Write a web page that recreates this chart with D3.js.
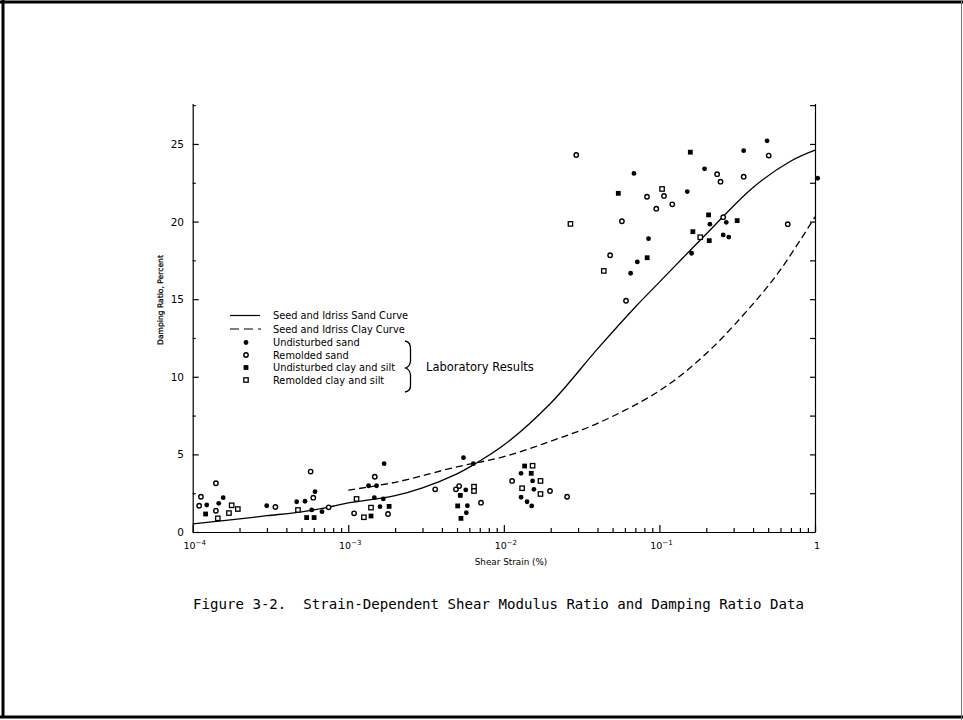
<!DOCTYPE html>
<html>
<head>
<meta charset="utf-8">
<script src="https://cdn.jsdelivr.net/npm/d3@7"></script>
<style>
  body { margin: 0; background: #fff; }
  svg { display: block; }
</style>
</head>
<body>
<div class="chart"></div>
<script>
// chart data (strain in %, damping ratio in %)
var sandCurveStrain = [1e-4, 2e-4, 3e-4, 5e-4, 7.5e-4, 1e-3, 2e-3, 3e-3, 5e-3, 6.3e-3, 1e-2, 2e-2, 4e-2, 7e-2, 1e-1, 2e-1, 4e-1, 7e-1, 1];
var sandCurveDamping = [0.52, 0.85, 1.05, 1.3, 1.6, 1.87, 2.35, 2.85, 3.75, 4.3, 5.6, 8.3, 11.8, 14.5, 16.1, 19.2, 22.2, 23.9, 24.6];

var clayCurveStrain = [1e-3, 2e-3, 5e-3, 1e-2, 2e-2, 4e-2, 1e-1, 2e-1, 4e-1, 6e-1, 1];
var clayCurveDamping = [2.7, 3.2, 4.2, 4.85, 5.85, 7.0, 9.1, 11.5, 14.7, 16.9, 20.3];

var undisturbedSand = [
  [1.23e-4, 1.74], [1.47e-4, 1.85], [1.57e-4, 2.21], [2.99e-4, 1.69], [4.66e-4, 1.95],
  [5.27e-4, 1.98], [6.11e-4, 2.6], [5.82e-4, 1.42], [6.78e-4, 1.31], [1.70e-3, 4.4],
  [1.35e-3, 2.98], [1.52e-3, 2.98], [1.47e-3, 2.21], [1.68e-3, 2.13], [1.60e-3, 1.63],
  [5.50e-3, 4.79], [6.37e-3, 4.4], [5.69e-3, 2.71], [5.83e-3, 1.69], [5.74e-3, 1.24],
  [1.29e-2, 3.78], [1.53e-2, 3.29], [1.56e-2, 2.75], [1.29e-2, 2.24], [1.41e-2, 1.95],
  [1.51e-2, 1.68], [6.86e-2, 23.1], [7.21e-2, 17.4], [6.53e-2, 16.67], [8.51e-2, 18.9],
  [1.95e-1, 23.4], [3.48e-1, 24.57], [4.92e-1, 25.2], [1.51e-1, 21.93], [1.61e-1, 17.96],
  [2.11e-1, 19.83], [2.69e-1, 19.95], [2.57e-1, 19.14], [2.79e-1, 19.0], [1.04, 22.79]
];
var remoldedSand = [
  [1.13e-4, 2.27], [1.10e-4, 1.69], [1.41e-4, 3.14], [1.41e-4, 1.37], [3.40e-4, 1.61],
  [5.73e-4, 3.89], [5.96e-4, 2.21], [7.48e-4, 1.59], [1.48e-3, 3.56], [1.09e-3, 1.2],
  [1.80e-3, 1.16], [3.62e-3, 2.75], [4.92e-3, 2.75], [5.16e-3, 2.96], [7.13e-3, 1.89],
  [1.13e-2, 3.29], [1.98e-2, 2.64], [2.55e-2, 2.27], [2.92e-2, 24.29], [4.82e-2, 17.83],
  [6.10e-2, 14.9], [5.74e-2, 20.02], [8.32e-2, 21.6], [9.55e-2, 20.83], [1.07e-1, 21.65],
  [1.21e-1, 21.11], [2.35e-1, 23.05], [2.47e-1, 22.57], [3.48e-1, 22.89], [5.04e-1, 24.25],
  [2.57e-1, 20.28], [6.68e-1, 19.83]
];
var undisturbedClay = [
  [1.21e-4, 1.16], [5.40e-4, 0.93], [6.03e-4, 0.93], [1.83e-3, 1.65], [1.40e-3, 1.03],
  [5.25e-3, 2.36], [5.05e-3, 1.68], [5.30e-3, 0.88], [1.36e-2, 4.25], [1.50e-2, 3.78],
  [5.44e-2, 21.82], [8.34e-2, 17.67], [1.58e-1, 24.47], [2.07e-1, 20.43], [3.16e-1, 20.06],
  [1.64e-1, 19.35], [2.09e-1, 18.77]
];
var remoldedClay = [
  [1.45e-4, 0.88], [1.78e-4, 1.72], [1.71e-4, 1.22], [1.95e-4, 1.48], [4.75e-4, 1.42],
  [1.13e-3, 2.13], [1.40e-3, 1.57], [1.26e-3, 0.95], [6.43e-3, 2.92], [6.43e-3, 2.64],
  [1.53e-2, 4.27], [1.72e-2, 3.29], [1.31e-2, 2.82], [1.72e-2, 2.45], [2.68e-2, 19.85],
  [4.39e-2, 16.82], [1.04e-1, 22.1], [1.83e-1, 18.99]
];

var xMajorTicks = [1e-4, 1e-3, 1e-2, 1e-1, 1];
var xTickExponents = ["\u22124", "\u22123", "\u22122", "\u22121", ""];
var yMajorTicks = [0, 5, 10, 15, 20, 25];
var yMinorTicks = [2.5, 7.5, 12.5, 17.5, 22.5, 27.5];

var legendLabels = ["Seed and Idriss Sand Curve", "Seed and Idriss Clay Curve",
  "Undisturbed sand", "Remolded sand", "Undisturbed clay and silt", "Remolded clay and silt"];
var captionText = "Figure 3-2.  Strain-Dependent Shear Modulus Ratio and Damping Ratio Data";

var svgWidth = 963;
var svgHeight = 720;

var svg = d3.select(".chart")
  .append("svg")
  .attr("width", svgWidth)
  .attr("height", svgHeight);

// page frame
svg.append("line").attr("x1", 0).attr("x2", 963).attr("y1", 2).attr("y2", 2)
  .attr("stroke", "#000").attr("stroke-width", 3);
svg.append("line").attr("x1", 3).attr("x2", 3).attr("y1", 0).attr("y2", 718)
  .attr("stroke", "#000").attr("stroke-width", 3);
svg.append("line").attr("x1", 0).attr("x2", 963).attr("y1", 717).attr("y2", 717)
  .attr("stroke", "#000").attr("stroke-width", 3);
svg.append("line").attr("x1", 961.5).attr("x2", 961.5).attr("y1", 0).attr("y2", 720)
  .attr("stroke", "#777").attr("stroke-width", 1);

// scales
var xScale = d3.scaleLog().domain([1e-4, 1]).range([192.7, 815]);
var yScale = d3.scaleLinear().domain([0, 27.6]).range([532, 103.6]);

var font = "'DejaVu Sans', Verdana, sans-serif";

// minor x ticks 2..9 per decade
var xMinorTicks = [];
xMajorTicks.slice(0, 4).forEach(function(d) {
  for (var k = 2; k <= 9; k++) xMinorTicks.push(d * k);
});

var xAxis = svg.append("g")
  .attr("transform", "translate(0,532)")
  .call(d3.axisBottom(xScale).tickValues(xMinorTicks).tickSize(-4).tickSizeOuter(0).tickFormat(""));
var xAxisMajor = svg.append("g")
  .attr("transform", "translate(0,532)")
  .call(d3.axisBottom(xScale).tickValues(xMajorTicks).tickSize(-7).tickSizeOuter(0).tickFormat(""));
xAxisMajor.select(".domain").remove();

// y axis (left) with ticks pointing in
var yAxis = svg.append("g")
  .attr("transform", "translate(192.7,0)")
  .call(d3.axisLeft(yScale).tickValues(yMajorTicks).tickSize(-6).tickSizeOuter(0).tickFormat(""));
var yAxisMinor = svg.append("g")
  .attr("transform", "translate(192.7,0)")
  .call(d3.axisLeft(yScale).tickValues(yMinorTicks).tickSize(-3).tickSizeOuter(0).tickFormat(""));
yAxisMinor.select(".domain").remove();

// right axis
var rightAxis = svg.append("g")
  .attr("transform", "translate(815,0)")
  .call(d3.axisRight(yScale).tickValues(yMajorTicks.concat(yMinorTicks)).tickSize(-5).tickSizeOuter(0).tickFormat(""));

svg.selectAll(".domain, .tick line")
  .attr("stroke", "#000")
  .attr("stroke-width", 1.2);

// y tick labels
svg.append("g").selectAll("text")
  .data(yMajorTicks)
  .enter()
  .append("text")
  .attr("x", 184)
  .attr("y", d => yScale(d) + 4)
  .attr("text-anchor", "end")
  .style("font-family", font)
  .style("font-size", "10.5px")
  .text(d => d);

// x tick labels with superscripts
var xLabels = svg.append("g").selectAll("text")
  .data(xMajorTicks)
  .enter()
  .append("text")
  .attr("x", d => xScale(d) + 2)
  .attr("y", 549)
  .attr("text-anchor", "middle")
  .style("font-family", font)
  .style("font-size", "9.5px");
xLabels.each(function(d, i) {
  var t = d3.select(this);
  if (xTickExponents[i] === "") {
    t.text("1");
  } else {
    t.append("tspan").text("10");
    t.append("tspan").attr("dy", -4).style("font-size", "7px").text(xTickExponents[i]);
  }
});

// axis titles
svg.append("text")
  .attr("x", 511)
  .attr("y", 565)
  .attr("text-anchor", "middle")
  .style("font-family", font)
  .style("font-size", "8.8px")
  .text("Shear Strain (%)");

svg.append("text")
  .attr("transform", "translate(163,300) rotate(-90)")
  .attr("text-anchor", "middle")
  .style("font-family", font)
  .style("font-size", "7.6px")
  .style("stroke", "#000")
  .style("stroke-width", 0.25)
  .text("Damping Ratio, Percent");

// curves
var curveLine = d3.line()
  .x(d => xScale(d[0]))
  .y(d => yScale(d[1]))
  .curve(d3.curveCatmullRom.alpha(0.5));

svg.append("path")
  .datum(sandCurveStrain.map((s, i) => [s, sandCurveDamping[i]]))
  .attr("d", curveLine)
  .attr("fill", "none")
  .attr("stroke", "#000")
  .attr("stroke-width", 1.3);

svg.append("path")
  .datum(clayCurveStrain.map((s, i) => [s, clayCurveDamping[i]]))
  .attr("d", curveLine)
  .attr("fill", "none")
  .attr("stroke", "#000")
  .attr("stroke-width", 1.3)
  .attr("stroke-dasharray", "7,4");

// marker drawing
function drawMarker(g, kind, cx, cy) {
  if (kind === "fc") {
    g.append("circle").attr("cx", cx).attr("cy", cy).attr("r", 2.4).attr("fill", "#000");
  } else if (kind === "oc") {
    g.append("circle").attr("cx", cx).attr("cy", cy).attr("r", 2.2)
      .attr("fill", "#fff").attr("stroke", "#000").attr("stroke-width", 1.4);
  } else if (kind === "fs") {
    g.append("rect").attr("x", cx - 2.4).attr("y", cy - 2.4).attr("width", 4.8).attr("height", 4.8)
      .attr("fill", "#000");
  } else {
    g.append("rect").attr("x", cx - 2.2).attr("y", cy - 2.2).attr("width", 4.4).attr("height", 4.4)
      .attr("fill", "#fff").attr("stroke", "#000").attr("stroke-width", 1.3);
  }
}

var pointsGroup = svg.append("g");
[[undisturbedSand, "fc"], [remoldedSand, "oc"], [undisturbedClay, "fs"], [remoldedClay, "os"]]
  .forEach(function(series) {
    series[0].forEach(function(d) {
      drawMarker(pointsGroup, series[1], xScale(d[0]), yScale(d[1]));
    });
  });

// legend
var legend = svg.append("g");
legend.append("line").attr("x1", 230).attr("x2", 260).attr("y1", 315.5).attr("y2", 315.5)
  .attr("stroke", "#000").attr("stroke-width", 1.2);
legend.append("line").attr("x1", 230).attr("x2", 261).attr("y1", 329).attr("y2", 329)
  .attr("stroke", "#000").attr("stroke-width", 1.2).attr("stroke-dasharray", "9,5");
var legendKinds = ["fc", "oc", "fs", "os"];
var legendY = [315.5, 329, 342.5, 355, 367.5, 380];
legendKinds.forEach(function(k, i) {
  drawMarker(legend, k, 246, legendY[i + 2]);
});
legend.selectAll("text")
  .data(legendLabels)
  .enter()
  .append("text")
  .attr("x", 273)
  .attr("y", (d, i) => legendY[i] + 3.5)
  .style("font-family", font)
  .style("font-size", "9.8px")
  .text(d => d);

// brace
legend.append("path")
  .attr("d", "M405,341 Q411,342 410.5,350 L410.5,361 Q410,366.5 405.5,368 Q410,369.5 410.5,375 L410.5,385 Q411,391 405,392")
  .attr("fill", "none")
  .attr("stroke", "#000")
  .attr("stroke-width", 1.3);
legend.append("text")
  .attr("x", 426)
  .attr("y", 371)
  .style("font-family", font)
  .style("font-size", "11.5px")
  .text("Laboratory Results");

// caption
svg.append("text")
  .attr("x", 193)
  .attr("y", 609)
  .attr("textLength", 611)
  .attr("lengthAdjust", "spacingAndGlyphs")
  .style("font-family", "'DejaVu Sans Mono', 'Liberation Mono', monospace")
  .style("font-size", "14px")
  .style("white-space", "pre")
  .attr("xml:space", "preserve")
  .text(captionText);
</script>
</body>
</html>
